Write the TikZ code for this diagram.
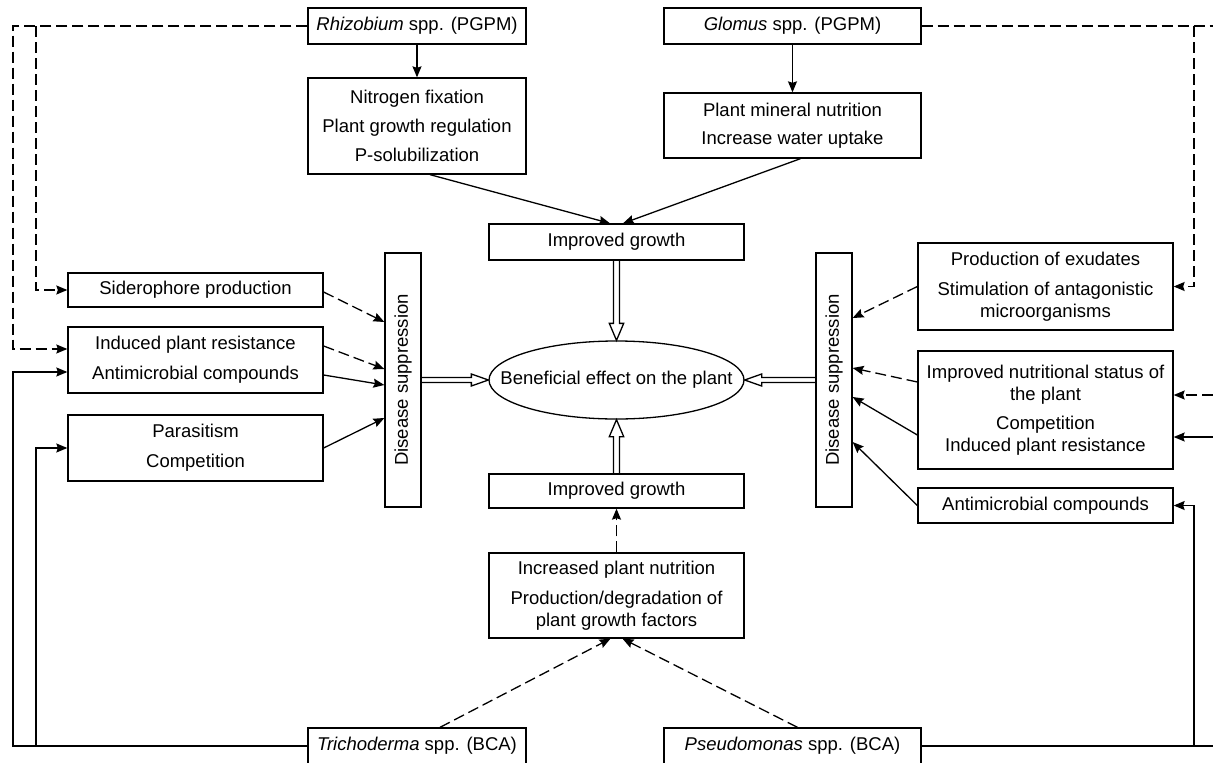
\documentclass[tikz,border=0pt]{standalone}
\usepackage{fontspec}
\setmainfont{Liberation Sans}
\usetikzlibrary{arrows.meta,shapes.geometric,calc}
\tikzset{
 box/.style={draw, line width=1.3pt, inner sep=0pt, align=center, font=\fontsize{18.5}{22}\selectfont},
 conn/.style={line width=1.3pt, -{Stealth[length=11pt,width=9pt,inset=1.5pt]}},
 plainline/.style={line width=1.3pt},
 dashline/.style={dash pattern=on 11pt off 5pt},
 hol/.style={line width=1.3pt, line join=miter},
}
\newcommand\hollow[4]{\draw[hol] ($(#1)+#4$) -- ($(#2)+#3+#4$) -- ($(#2)+#3+2.4*#4$) -- (#2) -- ($(#2)+#3-2.4*#4$) -- ($(#2)+#3-#4$) -- ($(#1)-#4$);}
\begin{document}
\begin{tikzpicture}[x=1pt,y=-1pt]
\useasboundingbox (0,0) rectangle (1213,763);
% nodes
\node[box, minimum width=218, minimum height=36] (rhiz) at (417,26) {\textit{Rhizobium} spp. (PGPM)};
\node[box, minimum width=257, minimum height=36] (glom) at (792.5,26) {\textit{Glomus} spp. (PGPM)};
\node[box, minimum width=218, minimum height=96] (nfix) at (417,126) {Nitrogen fixation\\[7pt]Plant growth regulation\\[7pt]P-solubilization};
\node[box, minimum width=257, minimum height=65] (pmn) at (792.5,125.5) {Plant mineral nutrition\\[6pt]Increase water uptake};
\node[box, minimum width=255, minimum height=36] (igt) at (616.5,242) {Improved growth};
\node[box, ellipse, minimum width=255, minimum height=78, label={[font=\fontsize{18.5}{22}\selectfont]center:Beneficial effect on the plant}] (eff) at (616.5,380) {};
\node[box, minimum width=36, minimum height=254] (dsl) at (403,380) {\rotatebox{90}{Disease suppression}};
\node[box, minimum width=36, minimum height=254] (dsr) at (834,380) {\rotatebox{90}{Disease suppression}};
\node[box, minimum width=255, minimum height=34] (sid) at (195.5,290) {Siderophore production};
\node[box, minimum width=255, minimum height=66] (ipr) at (195.5,360) {Induced plant resistance\\[8pt]Antimicrobial compounds};
\node[box, minimum width=255, minimum height=66] (par) at (195.5,448) {Parasitism\\[8pt]Competition};
\node[box, minimum width=255, minimum height=87] (exu) at (1045.5,286.5) {Production of exudates\\[8pt]Stimulation of antagonistic\\microorganisms};
\node[box, minimum width=255, minimum height=118] (ins) at (1045.5,410) {Improved nutritional status of\\the plant\\[7pt]Competition\\Induced plant resistance};
\node[box, minimum width=255, minimum height=35] (amr) at (1045.5,505.5) {Antimicrobial compounds};
\node[box, minimum width=255, minimum height=34] (igb) at (616.5,491) {Improved growth};
\node[box, minimum width=255, minimum height=85] (ipn) at (616.5,595.5) {Increased plant nutrition\\[8pt]Production/degradation of\\plant growth factors};
\node[box, minimum width=218, minimum height=36] (tri) at (417,746) {\textit{Trichoderma} spp. (BCA)};
\node[box, minimum width=257, minimum height=36] (pse) at (792.5,746) {\textit{Pseudomonas} spp. (BCA)};
% free-end coordinates
\coordinate (rb) at (36,26);
\coordinate (tb) at (36,746);
\coordinate (gE) at (1213,26);
\coordinate (gb) at (1194,26);
\coordinate (pE) at (1213,746);
\coordinate (pb) at (1194,746);
\coordinate (rD) at (1213,395);
\coordinate (rS) at (1213,437);
% top
\draw[conn] (rhiz.south) -- (nfix.north);
\draw[conn] (glom.south) -- (pmn.north);
\draw[conn] ($(nfix.south)+(13,0)$) -- ($(igt.north)+(-6.5,0)$);
\draw[conn] ($(pmn.south)+(8,0)$) -- ($(igt.north)+(6.5,0)$);
% bottom
\draw[conn,dashline] (ipn.north) -- (igb.south);
\draw[conn,dashline] ($(tri.north)+(23,0)$) -- ($(ipn.south)+(-6,0)$);
\draw[conn,dashline] ($(pse.north)+(5,0)$) -- ($(ipn.south)+(6,0)$);
% left feeders
\draw[conn,dashline] (rhiz.west) -- (13,26) -- (13,349) -- ($(ipr.west)+(0,-11)$);
\draw[conn,dashline] (rb) -- (rb |- sid.west) -- (sid.west);
\draw[conn] (tri.west) -- (13,746) -- (13,372) -- ($(ipr.west)+(0,12)$);
\draw[conn] (tb) -- (tb |- par.west) -- (par.west);
% left to DS
\draw[conn,dashline] ($(sid.east)+(0,2)$) -- ($(dsl.west)+(0,-58)$);
\draw[conn,dashline] ($(ipr.east)+(0,-14)$) -- ($(dsl.west)+(0,-11)$);
\draw[conn] ($(ipr.east)+(0,15)$) -- ($(dsl.west)+(0,5)$);
\draw[conn] (par.east) -- ($(dsl.west)+(0,38)$);
% right feeders
\draw[plainline,dashline] (glom.east) -- (gE);
\draw[conn,dashline] (gb) -- (gb |- exu.east) -- (exu.east);
\draw[conn,dashline] (rD) -- ($(ins.east)+(0,-15)$);
\draw[conn] (rS) -- ($(ins.east)+(0,27)$);
\draw[plainline] (pse.east) -- (pE);
\draw[conn] (pb) -- (pb |- amr.east) -- (amr.east);
% right to DS
\draw[conn,dashline] (exu.west) -- ($(dsr.east)+(0,-62)$);
\draw[conn,dashline] ($(ins.west)+(0,-28)$) -- ($(dsr.east)+(0,-12)$);
\draw[conn] ($(ins.west)+(0,25)$) -- ($(dsr.east)+(0,17)$);
\draw[conn] (amr.west) -- ($(dsr.east)+(0,62)$);
% hollow arrows
\hollow{igt.south}{eff.north}{(0,-17)}{(3,0)}
\hollow{igb.north}{eff.south}{(0,17)}{(3,0)}
\hollow{dsl.east}{eff.west}{(-17,0)}{(0,2.5)}
\hollow{dsr.west}{eff.east}{(17,0)}{(0,2.5)}
\end{tikzpicture}
\end{document}
